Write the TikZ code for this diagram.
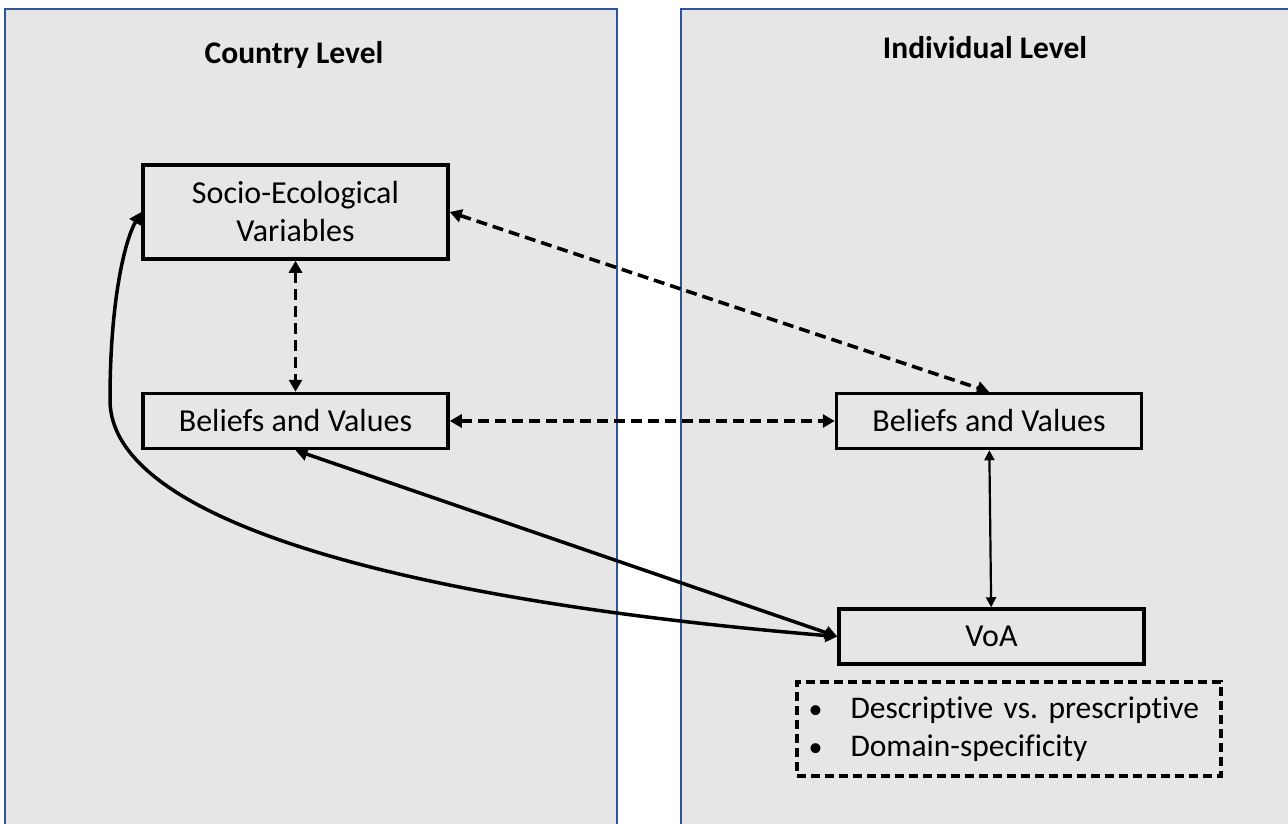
\documentclass[tikz,border=0pt]{standalone}
\usepackage{fontspec}
\setmainfont{Carlito}[Ligatures=NoCommon]
\usepackage{xcolor}
\definecolor{colorPanel}{RGB}{230,230,230}
\definecolor{colorPanelBorder}{RGB}{47,85,151}
\usetikzlibrary{arrows.meta, positioning}
\tikzset{
  levelbox/.style={draw, line width=3.5pt, minimum width=305pt, minimum height=55pt, inner sep=0pt, align=center, font=\fontsize{32}{38}\selectfont},
  leveltitle/.style={anchor=base, font=\bfseries\fontsize{31.5}{38}\selectfont},
  dashedlink/.style={line width=3.5pt, dash pattern=on 11pt off 6pt},
  solidlink/.style={line width=3.5pt},
}

\begin{document}
\begin{tikzpicture}[x=1pt, y=-1pt, >={Triangle[length=12pt,width=13pt]}]
\useasboundingbox (0,0) rectangle (1288,824);
\clip (0,0) rectangle (1288,824);
% panels
\fill[colorPanel] (5,9) rectangle (617,840);
\fill[colorPanel] (681,9) rectangle (1300,840);
\draw[colorPanelBorder, line width=1.3pt] (5,840) -- (5,9) -- (617,9) -- (617,840);
\draw[colorPanelBorder, line width=1.3pt] (681,840) -- (681,9) -- (1300,9);
\node[leveltitle] (country) at (294,64) {Country Level};
\node[leveltitle] (individual) at (985,59) {Individual Level};
% boxes
\node[levelbox, minimum height=94pt] (socio) at (295.5,212) {Socio-Ecological\\Variables};
\node[levelbox, below=131pt of socio] (bvL) {Beliefs and Values};
\node[levelbox, right=385pt of bvL] (bvR) {Beliefs and Values};
\node[levelbox, below=157pt of bvR, xshift=2.5pt] (voa) {VoA};
\node[draw, line width=4pt, dash pattern=on 9pt off 5pt, below=14pt of voa, xshift=17pt, minimum height=94pt, inner xsep=12pt, text width=400pt, align=left, font=\fontsize{31.5}{38}\selectfont] (notes) {\makebox[42pt][l]{\fontsize{28}{38}\selectfont\textbullet}Descriptive vs.\ prescriptive\\\makebox[42pt][l]{\fontsize{28}{38}\selectfont\textbullet}Domain-specificity};
% links
\draw[<->, dashedlink] (socio) -- (bvL);
\draw[<->, dashedlink] (socio.east) -- (bvR.north);
\draw[<->, dashedlink] (bvL) -- (bvR);
\draw[<->, line width=2.2pt, >={Triangle[length=10pt,width=10pt]}] (bvR) -- (voa);
\draw[<->, solidlink] (bvL.south) -- (voa.west);
\draw[<->, solidlink] (voa.west) .. controls (400,600) and (110,520) .. (110,400) .. controls (110,300) and (125,240) .. (socio.west);
\end{tikzpicture}
\end{document}
